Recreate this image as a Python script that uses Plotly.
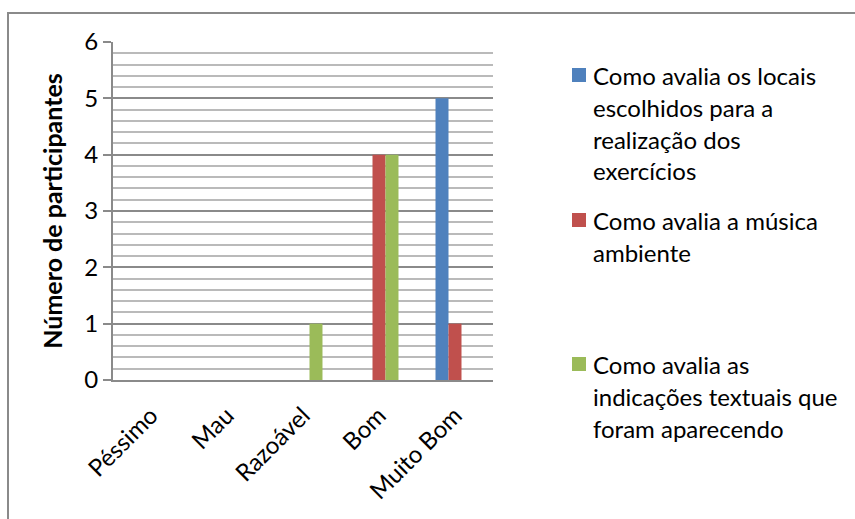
import plotly.graph_objects as go

categories = ["Péssimo", "Mau", "Razoável", "Bom", "Muito Bom"]
series_names = [
    "Como avalia os locais escolhidos para a realização dos exercícios",
    "Como avalia a música ambiente",
    "Como avalia as indicações textuais que foram aparecendo",
]
legend_lines = [
    ["Como avalia os locais", "escolhidos para a", "realização dos", "exercícios"],
    ["Como avalia a música", "ambiente"],
    ["Como avalia as", "indicações textuais que", "foram aparecendo"],
]
locais = [0, 0, 0, 0, 5]
musica = [0, 0, 0, 4, 1]
textuais = [0, 0, 1, 4, 0]
colors = ["#4F81BD", "#C0504D", "#9BBB59"]
y_title = "Número de participantes"

W, H = 855, 519
L, R, T, B = 113, 493, 42, 380

def px_x(p):
    return (p - L) / (R - L)

def px_y(p):
    return (B - p) / (B - T)

FONT = "Lato"
FS = 24

fig = go.Figure()
for name, vals, col in zip(series_names, [locais, musica, textuais], colors):
    fig.add_trace(go.Bar(x=categories, y=vals, name=name, marker_color=col,
                         marker_line_width=0, showlegend=False))

fig.update_layout(
    width=W, height=H,
    margin=dict(l=L, r=W - R, t=T, b=H - B, pad=0),
    paper_bgcolor="white", plot_bgcolor="white",
    barmode="group", bargap=0.487, bargroupgap=0,
    font=dict(family=FONT, size=FS, color="#000000"),
    xaxis=dict(showgrid=False, showline=True, linecolor="#8a8a8a", linewidth=2,
               ticks="", tickangle=-45, tickfont=dict(size=FS, family=FONT),
               ticklabelstandoff=10, zeroline=False),
    yaxis=dict(range=[0, 6], dtick=1, showgrid=True, gridcolor="#8a8a8a", gridwidth=2,
               minor=dict(dtick=0.2, showgrid=True, gridcolor="#bababa", gridwidth=2),
               showline=True, linecolor="#8a8a8a", linewidth=2,
               ticks="outside", ticklen=8, tickcolor="#8a8a8a", tickwidth=2,
               tickfont=dict(size=FS, family=FONT),
               zeroline=False,
               title=dict(text="<b>" + y_title + "</b>", font=dict(size=FS + 1, family=FONT),
                          standoff=15)),
)

# chart border
fig.add_shape(type="rect", xref="paper", yref="paper",
              x0=px_x(8), y0=px_y(530), x1=px_x(870), y1=px_y(13),
              line=dict(color="#8a8a8a", width=2), fillcolor="rgba(0,0,0,0)", layer="above")

# legend (Excel-style, equal slots)
first_line_y = [75, 220, 364]
line_h = 32
for lines, col, y0 in zip(legend_lines, colors, first_line_y):
    fig.add_shape(type="rect", xref="paper", yref="paper",
                  x0=px_x(572), x1=px_x(586), y0=px_y(y0 - 7), y1=px_y(y0 + 7),
                  fillcolor=col, line=dict(width=0))
    for i, ln in enumerate(lines):
        fig.add_annotation(text=ln, xref="paper", yref="paper",
                           x=px_x(591), y=px_y(y0 + i * line_h),
                           xanchor="left", yanchor="middle", showarrow=False,
                           font=dict(size=FS, family=FONT, color="#000000"))

fig.write_html("out.html")
